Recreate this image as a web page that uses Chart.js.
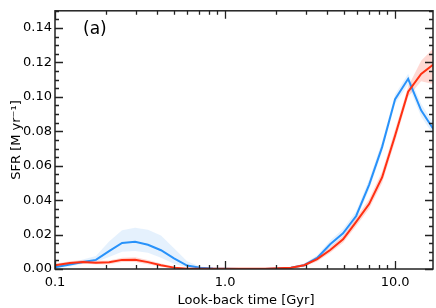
<!DOCTYPE html>
<html>
<head>
<meta charset="utf-8">
<script src="https://cdn.jsdelivr.net/npm/chart.js@4.4.1/dist/chart.umd.min.js"></script>
<style>
  html, body { margin: 0; padding: 0; background: #fff; }
  #wrap { width: 436px; height: 308px; }
</style>
</head>
<body>
<div id="wrap"><canvas id="c" width="436" height="308"></canvas></div>
<script>
// ---- data ----
const times = [0.100, 0.1225, 0.146, 0.174, 0.208, 0.248, 0.296, 0.352, 0.420, 0.501,
               0.598, 0.713, 0.850, 1.01, 1.21, 1.44, 1.72, 2.05, 2.44, 2.92,
               3.48, 4.15, 4.94, 5.90, 7.03, 8.38, 10.0, 11.93, 14.22, 16.7];

const sfrBlue = [0.0010, 0.0026, 0.0041, 0.0053, 0.0104, 0.0151, 0.0158, 0.0141, 0.0109, 0.0062,
                 0.0020, 0.0007, 0.0003, 0.0001, 0.0000, 0.0000, 0.0000, 0.0003, 0.0008, 0.0022,
                 0.0064, 0.0144, 0.0207, 0.0308, 0.0489, 0.0708, 0.0987, 0.1105, 0.0922, 0.0816];
const blueHi  = [0.0015, 0.0035, 0.0055, 0.0075, 0.0160, 0.0225, 0.0240, 0.0228, 0.0195, 0.0120,
                 0.0045, 0.0015, 0.0006, 0.0002, 0.0002, 0.0002, 0.0002, 0.0006, 0.0013, 0.0032,
                 0.0080, 0.0165, 0.0232, 0.0335, 0.0520, 0.0740, 0.1015, 0.1135, 0.0960, 0.0850];
const blueLo  = [0.0005, 0.0015, 0.0030, 0.0040, 0.0070, 0.0100, 0.0105, 0.0095, 0.0065, 0.0030,
                 0.0008, 0.0002, 0.0000, 0.0000, 0.0000, 0.0000, 0.0000, 0.0001, 0.0004, 0.0014,
                 0.0050, 0.0125, 0.0185, 0.0285, 0.0460, 0.0680, 0.0960, 0.1070, 0.0885, 0.0785];

const sfrRed  = [0.0022, 0.0035, 0.0041, 0.0037, 0.0039, 0.0053, 0.0054, 0.0040, 0.0022, 0.0008,
                 0.0002, 0.0001, 0.0001, 0.0001, 0.0001, 0.0001, 0.0001, 0.0004, 0.0007, 0.0022,
                 0.0057, 0.0110, 0.0172, 0.0274, 0.0377, 0.0532, 0.0776, 0.1030, 0.1133, 0.1186];
const redHi   = [0.0030, 0.0045, 0.0052, 0.0048, 0.0050, 0.0066, 0.0068, 0.0052, 0.0032, 0.0014,
                 0.0005, 0.0002, 0.0002, 0.0002, 0.0002, 0.0002, 0.0002, 0.0007, 0.0012, 0.0030,
                 0.0072, 0.0128, 0.0192, 0.0298, 0.0405, 0.0565, 0.0810, 0.1060, 0.1210, 0.1280];
const redLo   = [0.0014, 0.0026, 0.0031, 0.0027, 0.0028, 0.0041, 0.0041, 0.0028, 0.0013, 0.0003,
                 0.0000, 0.0000, 0.0000, 0.0000, 0.0000, 0.0000, 0.0000, 0.0001, 0.0003, 0.0014,
                 0.0043, 0.0094, 0.0152, 0.0250, 0.0350, 0.0500, 0.0742, 0.1000, 0.1090, 0.1075];

const xMajorTicks = [0.1, 1, 10];
const xMinorTicks = [0.2,0.3,0.4,0.5,0.6,0.7,0.8,0.9,2,3,4,5,6,7,8,9];
const yMajorTicks = [0, 0.02, 0.04, 0.06, 0.08, 0.10, 0.12, 0.14];
const panelLabel = '(a)';
const xTitle = 'Look-back time [Gyr]';
const yTitle = 'SFR [M yr\u207B\u00B9]';

// ---- build ----
const pts = arr => arr.map((v, i) => ({ x: times[i], y: v }));
const FONT = 'DejaVu Sans';

const framePlugin = {
  id: 'frame',
  afterDraw(chart) {
    const { ctx, chartArea: a, scales } = chart;
    const xs = scales.x, ys = scales.y;
    ctx.save();
    ctx.strokeStyle = '#222';
    ctx.lineWidth = 1.3;
    ctx.beginPath();
    const tick = (x1, y1, x2, y2) => { ctx.moveTo(x1, y1); ctx.lineTo(x2, y2); };
    xMajorTicks.forEach(v => {
      const p = Math.round(xs.getPixelForValue(v)) + 0.5;
      tick(p, a.bottom, p, a.bottom - 8); tick(p, a.top, p, a.top + 8);
    });
    xMinorTicks.forEach(v => {
      const p = Math.round(xs.getPixelForValue(v)) + 0.5;
      tick(p, a.bottom, p, a.bottom - 4); tick(p, a.top, p, a.top + 4);
    });
    for (let v = 0; v <= 0.1501; v += 0.005) {
      const p = Math.round(ys.getPixelForValue(v)) + 0.5;
      const major = Math.abs(v / 0.02 - Math.round(v / 0.02)) < 1e-6;
      const L = major ? 8 : 4;
      tick(a.left, p, a.left + L, p); tick(a.right, p, a.right - L, p);
    }
    ctx.stroke();
    ctx.lineWidth = 1.5;
    ctx.strokeRect(a.left, a.top, a.right - a.left, a.bottom - a.top);

    ctx.fillStyle = '#000';
    ctx.textBaseline = 'alphabetic';
    ctx.font = '17px "' + FONT + '"';
    ctx.textAlign = 'left';
    ctx.fillText(panelLabel, 83, 34);

    ctx.font = '13px "' + FONT + '"';
    ctx.textAlign = 'center';
    ctx.fillText(xTitle, 246, 304);

    ctx.save();
    ctx.translate(20, 140);
    ctx.rotate(-Math.PI / 2);
    ctx.fillText(yTitle, 0, 0);
    ctx.restore();
    ctx.restore();
  }
};

new Chart(document.getElementById('c'), {
  type: 'line',
  data: {
    datasets: [
      { label: 'red', data: pts(sfrRed), borderColor: 'rgb(255,48,18)', borderWidth: 2,
        pointRadius: 0, fill: false, tension: 0, order: 0 },
      { label: 'blue', data: pts(sfrBlue), borderColor: 'rgb(40,146,250)', borderWidth: 2,
        pointRadius: 0, fill: false, tension: 0, order: 1 },
      { label: 'redHi', data: pts(redHi), borderWidth: 0, pointRadius: 0,
        backgroundColor: 'rgba(255,80,60,0.22)', fill: '+1', order: 2 },
      { label: 'redLo', data: pts(redLo), borderWidth: 0, pointRadius: 0, fill: false, order: 2 },
      { label: 'blueHi', data: pts(blueHi), borderWidth: 0, pointRadius: 0,
        backgroundColor: 'rgba(40,140,240,0.12)', fill: '+1', order: 3 },
      { label: 'blueLo', data: pts(blueLo), borderWidth: 0, pointRadius: 0, fill: false, order: 3 }
    ]
  },
  options: {
    responsive: false,
    animation: false,
    devicePixelRatio: 1,
    layout: { padding: { top: 1, right: 3, left: 0, bottom: 0 } },
    plugins: { legend: { display: false }, tooltip: { enabled: false } },
    scales: {
      x: {
        type: 'logarithmic', min: 0.1, max: 16.7, position: 'bottom',
        grid: { display: false, drawTicks: false }, border: { display: false },
        afterBuildTicks: s => { s.ticks = xMajorTicks.map(v => ({ value: v })); },
        afterFit: s => { s.height = 39; },
        ticks: { color: '#000', font: { family: FONT, size: 13 }, padding: 6,
                 maxRotation: 0, autoSkip: false, callback: v => Number(v).toFixed(1) }
      },
      y: {
        type: 'linear', min: 0, max: 0.15,
        grid: { display: false, drawTicks: false }, border: { display: false },
        afterBuildTicks: s => { s.ticks = yMajorTicks.map(v => ({ value: v })); },
        afterFit: s => { s.width = 55; },
        ticks: { color: '#000', font: { family: FONT, size: 13 }, padding: 3,
                 callback: v => Number(v).toFixed(2) }
      }
    }
  },
  plugins: [framePlugin]
});
</script>
</body>
</html>
